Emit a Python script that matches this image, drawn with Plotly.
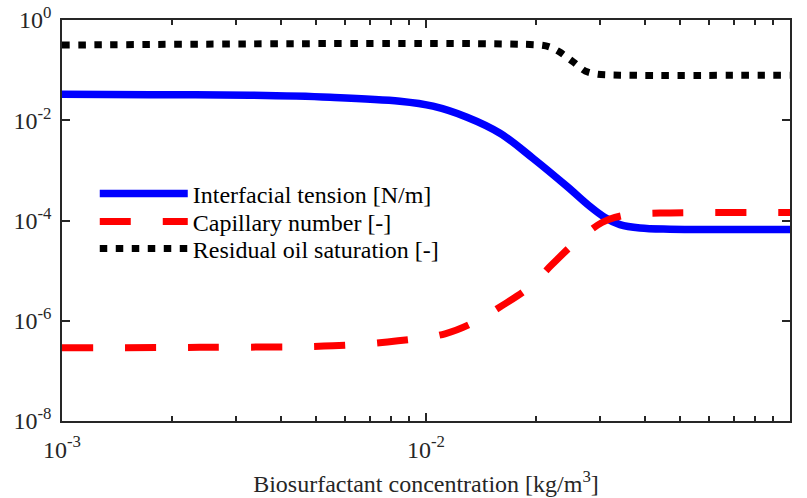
import plotly.graph_objects as go

# Interfacial tension [N/m]
ift_conc = [0.001, 0.00175, 0.00328, 0.00545, 0.00848, 0.01045, 0.01296, 0.01597,
            0.01968, 0.0244, 0.0282, 0.0310, 0.0341, 0.0387, 0.0468, 0.0642, 0.1]
ift_vals = [0.0331, 0.0324, 0.0316, 0.0288, 0.0240, 0.0191, 0.0115, 0.0055,
            0.00174, 4.79e-4, 1.91e-4, 1.15e-4, 8.3e-5, 7.08e-5, 6.7e-5, 6.61e-5, 6.61e-5]

# Capillary number [-]
nc_conc = [0.001, 0.00239, 0.00555, 0.00838, 0.01128, 0.01372, 0.01618, 0.0193,
           0.02219, 0.02583, 0.02822, 0.03044, 0.03304, 0.03634, 0.04395, 0.1]
nc_vals = [2.88e-7, 2.95e-7, 3.16e-7, 3.98e-7, 5.5e-7, 9.77e-7, 2.0e-6, 4.79e-6,
           1.32e-5, 3.8e-5, 6.31e-5, 9.12e-5, 1.15e-4, 1.32e-4, 1.41e-4, 1.45e-4]

# Residual oil saturation [-]
sor_conc = [0.001, 0.0206, 0.0219, 0.0233, 0.0254, 0.0274, 0.0295, 0.0341, 0.1]
sor_vals = [0.316, 0.316, 0.288, 0.229, 0.145, 0.0955, 0.0832, 0.0794, 0.0794]

x_tickvals = [1e-3, 1e-2, 1e-1]
x_ticktext = ["10<sup>-3</sup>", "10<sup>-2</sup>", "10<sup>-1</sup>"]
y_tickvals = [1e-8, 1e-6, 1e-4, 1e-2, 1e0]
y_ticktext = ["10<sup>-8</sup>", "10<sup>-6</sup>", "10<sup>-4</sup>", "10<sup>-2</sup>", "10<sup>0</sup>"]

names = ["Interfacial tension [N/m]", "Capillary number [-]", "Residual oil saturation [-]"]

FONT = "Liberation Serif"
AX = "#262626"
FS = 24

fig = go.Figure()
fig.add_trace(go.Scatter(x=ift_conc, y=ift_vals, mode="lines", name=names[0], legend="legend",
                         line=dict(color="#0000ff", width=7.5, shape="spline", smoothing=1.0)))
fig.add_trace(go.Scatter(x=nc_conc, y=nc_vals, mode="lines", name=names[1], legend="legend2",
                         line=dict(color="#ff0000", width=7, dash="31px,32px", shape="spline", smoothing=1.0)))
fig.add_trace(go.Scatter(x=sor_conc, y=sor_vals, mode="lines", name=names[2], legend="legend3",
                         line=dict(color="#000000", width=7, dash="7.5px,8.5px", shape="spline", smoothing=0.8)))

def leg(y):
    return dict(x=0.045, y=y, xanchor="left", yanchor="middle",
                bgcolor="rgba(255,255,255,0)", borderwidth=0,
                font=dict(family=FONT, size=FS, color="#000000"),
                itemwidth=88)

fig.update_layout(
    width=807, height=498,
    margin=dict(l=62, r=17, t=20, b=77),
    paper_bgcolor="white", plot_bgcolor="white",
    font=dict(family=FONT, size=FS, color="#000000"),
    showlegend=True,
    legend=leg((421 - 194) / 401),
    legend2=leg((421 - 222) / 401),
    legend3=leg((421 - 249) / 401),
)
fig.update_xaxes(
    type="log", range=[-3, -1], automargin=False,
    tickmode="array", tickvals=x_tickvals, ticktext=x_ticktext,
    ticks="inside", ticklen=8, tickwidth=1.5, tickcolor=AX,
    minor=dict(ticks="inside", ticklen=5, tickwidth=1.5, tickcolor=AX, dtick="D1", showgrid=False),
    showline=True, linewidth=1.5, linecolor=AX, mirror="ticks",
    showgrid=False, zeroline=False, ticklabelstandoff=6,
    tickfont=dict(family=FONT, size=FS, color="#262626"),
    title=dict(text="Biosurfactant concentration [kg/m<sup>3</sup>]",
               font=dict(family=FONT, size=FS, color="#262626"), standoff=14),
)
fig.update_yaxes(
    type="log", range=[-8, 0], automargin=False,
    tickmode="array", tickvals=y_tickvals, ticktext=y_ticktext,
    ticks="inside", ticklen=8, tickwidth=1.5, tickcolor=AX,
    showline=True, linewidth=1.5, linecolor=AX, mirror="ticks",
    showgrid=False, zeroline=False, ticklabelstandoff=4,
    tickfont=dict(family=FONT, size=FS, color="#262626"),
)

fig.write_html("out.html")
